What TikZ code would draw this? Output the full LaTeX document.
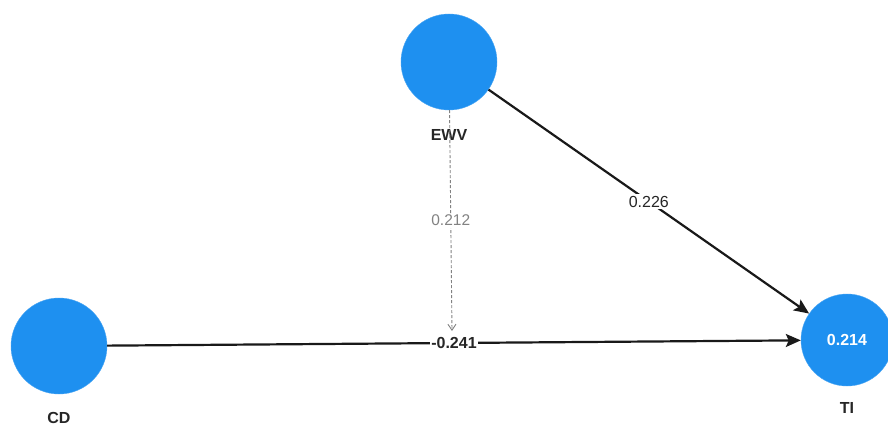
\documentclass[tikz,border=0pt]{standalone}
\usepackage{fontspec}
\setmainfont{Liberation Sans}
\usetikzlibrary{arrows.meta}
\definecolor{nodeblue}{RGB}{30,144,240}
\definecolor{modgray}{RGB}{130,130,130}
\tikzset{
  latent/.style={circle,fill=nodeblue,draw=nodeblue!80!white,minimum size=96pt,inner sep=0pt,text=white,font=\fontsize{16}{18}\selectfont\bfseries},
  vlabel/.style={font=\fontsize{16}{18}\selectfont\bfseries,text=black!85},
  path/.style={line width=2.2pt,black!90,-{Stealth[length=15pt,width=13pt,inset=3pt]}},
  coef/.style={fill=white,inner sep=1.5pt,font=\fontsize{16}{18}\selectfont,text=black!85},
  modpath/.style={line width=0.9pt,modgray,dash pattern=on 3pt off 2pt,-{Straight Barb[length=6pt,width=8pt]}},
  modcoef/.style={fill=white,inner sep=1.5pt,font=\fontsize{15.5}{18}\selectfont,text=modgray}
}
\begin{document}
\begin{tikzpicture}[x=1pt,y=-1pt]
\useasboundingbox[fill=white] (0,0) rectangle (888,428);
\node[latent] (EWV) at (449,62) {};
\node[latent] (CD) at (59,346) {};
\node[latent,minimum size=92pt] (TI) at (847,340) {0.214};
\node[vlabel] (EWVl) at (449,135) {EWV};
\node[vlabel] (CDl) at (59,418) {CD};
\node[vlabel] (TIl) at (847,408) {TI};
\draw[path] (CD) -- node[coef,pos=0.5,font=\fontsize{16}{18}\selectfont\bfseries] (c1) {-0.241} (TI);
\draw[path] (EWV) -- node[coef,pos=0.5] (c2) {0.226} (TI);
\coordinate (modend) at (452,331);
\draw[modpath] (EWV) -- node[modcoef,pos=0.5] (c3) {0.212} (modend);
\end{tikzpicture}
\end{document}
